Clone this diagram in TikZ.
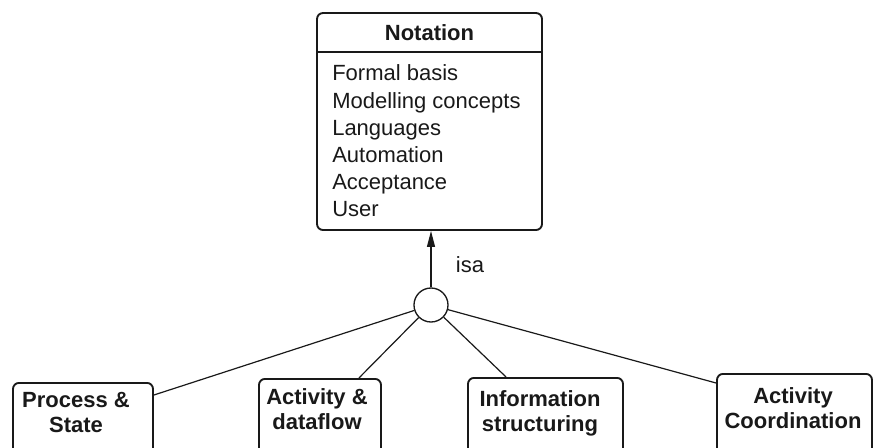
\documentclass[tikz,border=0pt]{standalone}
\usepackage{fontspec}
\setmainfont{Liberation Sans}
\usetikzlibrary{calc,arrows.meta}
\begin{document}
\begin{tikzpicture}[x=0.75pt,y=-0.75pt,
  frame/.style={draw=black!90, line width=1.4pt, rounded corners=4.5pt, inner sep=0pt},
  txt/.style={font=\fontsize{16.5}{18.75}\selectfont, text=black!90, inner sep=0pt,
    text height=11.8pt, text depth=0pt},
  headtxt/.style={txt, font=\fontsize{16.5}{18.75}\selectfont\bfseries, align=center},
  conn/.style={draw=black!90, line width=0.9pt},
  hub/.style={circle, draw=black!90, line width=1pt, minimum size=25.5pt, inner sep=0pt, fill=white}]
\useasboundingbox (0,0) rectangle (876,447);
\clip (0,0) rectangle (876,447);

% class box with its attribute list
\node[frame, minimum width=168.75pt, minimum height=162.75pt] (not) at (429.5,121.5) {};
\draw[draw=black!90, line width=1.4pt] (not.west |- 0,52) -- (not.east |- 0,52);
\node[headtxt] (title) at (429.5,33) {Notation};
\foreach \t [count=\i from 0] in {Formal basis, Modelling concepts, Languages, Automation, Acceptance, User}
  \node[txt, anchor=west] (item\i) at (332,73+27.2*\i) {\t};

% specialisation hub
\node[hub] (hub) at (431,305) {};
\draw[conn, -{Triangle[length=12pt,width=6pt]}] (hub) -- (hub |- not.south);
\node[txt] (isa) at (470,265) {isa};

% subclasses (boxes run past the lower edge)
\node[frame, anchor=north, minimum width=105pt, minimum height=75pt] (ps) at (83,382) {};
\node[frame, anchor=north, minimum width=91.5pt, minimum height=75pt] (ad) at (320,378) {};
\node[frame, anchor=north, minimum width=116.25pt, minimum height=75pt] (is) at (545.5,377) {};
\node[frame, anchor=north, minimum width=116.25pt, minimum height=75pt] (ac) at (794.5,373) {};

% two-line labels: the node is centred on the second line
\node[headtxt] (pslbl) at (76,425) {Process \&\\State};
\node[headtxt] (adlbl) at (317,422) {Activity \&\\dataflow};
\node[headtxt] (islbl) at (540,424) {Information\\structuring};
\node[headtxt] (aclbl) at (793,421) {Activity\\Coordination};

% attachment points on the subclass boxes
\coordinate (psin) at ($(ps.north east)+(0,13)$);
\coordinate (adin) at ($(ad.north east)+(-23,0)$);
\coordinate (isin) at ($(is.north west)+(39,0)$);
\coordinate (acin) at ($(ac.north west)+(0,10)$);

\draw[conn] (hub) -- (psin);
\draw[conn] (hub) -- (adin);
\draw[conn] (hub) -- (isin);
\draw[conn] (hub) -- (acin);
\end{tikzpicture}
\end{document}
